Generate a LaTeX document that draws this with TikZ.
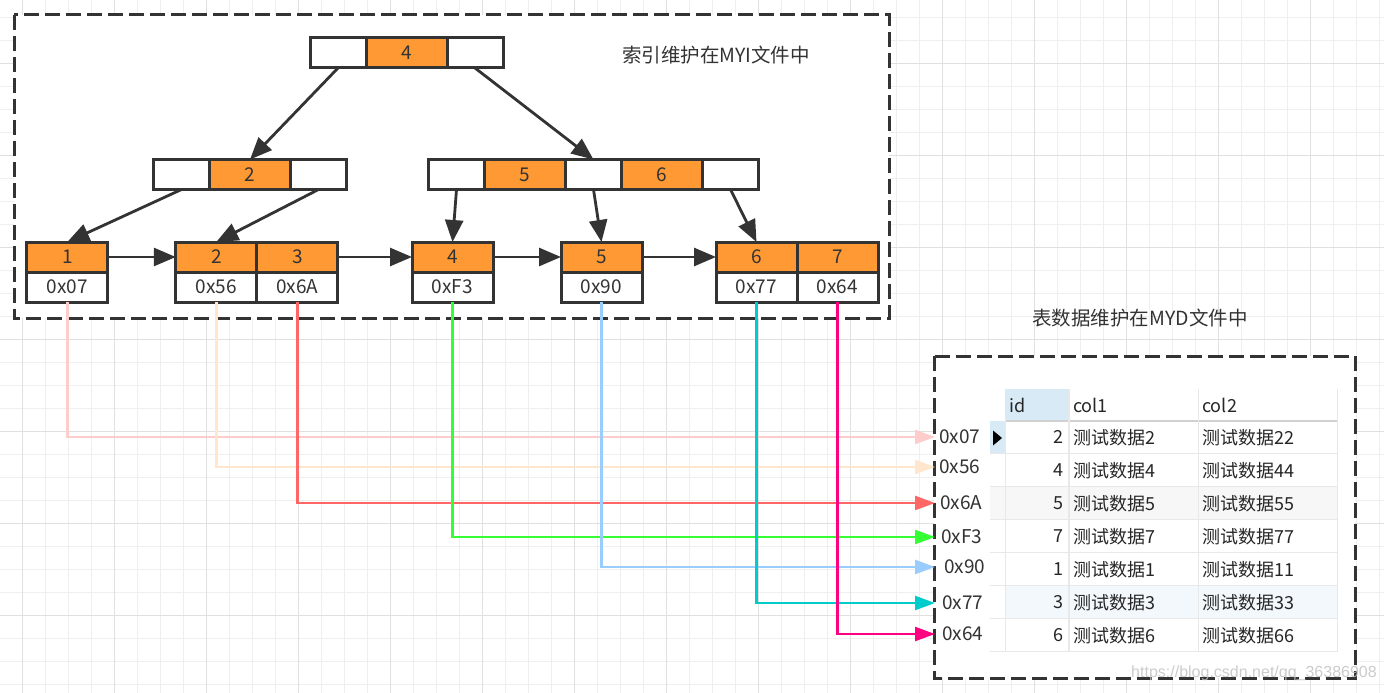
\documentclass[tikz,border=0pt]{standalone}
\usepackage{fontspec}
\usepackage{xcolor}
\usepackage{tikz}
\usetikzlibrary{positioning,arrows.meta}
\newfontfamily\cjk{Noto Sans CJK SC}
\newfontfamily\markfont{Liberation Sans}
\definecolor{ink}{HTML}{333333}
\definecolor{keyorange}{HTML}{FF9933}
\definecolor{gridminor}{HTML}{EFEFEF}
\definecolor{gridmajor}{HTML}{E0E0E0}
\definecolor{ptrA}{HTML}{FFCCCC}
\definecolor{ptrB}{HTML}{FFE6CC}
\definecolor{ptrC}{HTML}{FF6666}
\definecolor{ptrD}{HTML}{33FF33}
\definecolor{ptrE}{HTML}{99CCFF}
\definecolor{ptrF}{HTML}{00CCCC}
\definecolor{ptrG}{HTML}{FF0080}
\definecolor{tabline}{HTML}{E8E8E8}
\definecolor{tabhead}{HTML}{D9EAF7}
\definecolor{rowgray}{HTML}{F7F7F7}
\definecolor{rowblue}{HTML}{F3F8FD}

\tikzset{
  cell/.style={draw=ink, line width=3pt, fill=white, minimum width=56pt,
    minimum height=30pt, inner sep=0pt, outer sep=0pt, text=ink, font=\cjk\fontsize{19}{19}\selectfont},
  key/.style={cell, fill=keyorange, minimum width=81pt},
  ptr/.style={cell, minimum width=81pt},
  link/.style={draw=ink, line width=2.8pt, -{Triangle[length=22pt,width=18pt]}},
  rowptr/.style={line width=2.6pt, -{Triangle[length=20pt,width=14pt]}},
  frame/.style={draw=ink, line width=3pt, dash pattern=on 15pt off 6pt, fill=white},
  title/.style={text=ink, inner sep=0pt, font=\cjk\fontsize{19.5}{20}\selectfont},
  addr/.style={anchor=west, inner sep=0pt, inner xsep=4pt, text=ink, font=\cjk\fontsize{19}{19}\selectfont},
  tabtext/.style={inner sep=0pt, text=black!85, font=\cjk\fontsize{18}{18}\selectfont}
}

\begin{document}
\begin{tikzpicture}[x=1pt, y=-1pt]
	\useasboundingbox[fill=white] (0,0) rectangle (1384,693);
	% background grid
	\foreach \gx in {1,...,60}
		\draw[gridminor, line width=1pt] ({-0.7+23*\gx},0) -- ({-0.7+23*\gx},693);
	\foreach \gy in {0,...,29}
		\draw[gridminor, line width=1pt] (0,{17.3+23*\gy}) -- (1384,{17.3+23*\gy});
	\foreach \gx in {0,...,15}
		\draw[gridmajor, line width=1pt] ({22.3+92*\gx},0) -- ({22.3+92*\gx},693);
	\foreach \gy in {0,...,7}
		\draw[gridmajor, line width=1pt] (0,{63.3+92*\gy}) -- (1384,{63.3+92*\gy});

	\draw[frame] (14,15) rectangle (889,318);
	\draw[frame] (934,356) rectangle (1355,678);

	\node[title] (idxtitle) at (716,55) {索引维护在MYI文件中};
	\node[title] (dattitle) at (1140,318) {表数据维护在MYD文件中};

	% table
	\fill[tabhead] (1005.7,389.3) rectangle (1069,420.7);
	\fill[tabhead] (990,420.7) rectangle (1005.7,453.7);
	\fill[rowgray] (990,486.7) rectangle (1337.3,519.7);
	\fill[rowblue] (1005.7,585.7) rectangle (1337.3,618.7);
	\foreach \ty in {453.7,486.7,519.7,552.7,585.7,618.7,651.7}
		\draw[tabline, line width=1.5pt] (990,\ty) -- (1337.3,\ty);
	\draw[black!18, line width=2pt] (1005.7,420.7) -- (1337.3,420.7);
	\foreach \tx in {1005.7,1069,1198.3,1337.3}
		\draw[tabline, line width=1.5pt] (\tx,389.3) -- (\tx,651.7);
	\fill[black] (993,430.5) -- (1002,438) -- (993,445.5) -- cycle;
	\node[tabtext, anchor=west] (hid) at (1009,405) {id};
	\node[tabtext, anchor=west] (hca) at (1073,405) {col1};
	\node[tabtext, anchor=west] (hcb) at (1202,405) {col2};
	\foreach \i/\v/\a/\b in {1/2/2/22,2/4/4/44,3/5/5/55,4/7/7/77,5/1/1/11,6/3/3/33,7/6/6/66} {
		\node[tabtext, anchor=east] (id\i) at (1064,{404.2+33*\i}) {\v};
		\node[tabtext, anchor=west] (ca\i) at (1073,{404.2+33*\i}) {测试数据\a};
		\node[tabtext, anchor=west] (cb\i) at (1202,{404.2+33*\i}) {测试数据\b};
	}

	\node[addr] (p1) at (935,437) {0x07};
	\node[addr] (p2) at (935,467) {0x56};
	\node[addr, inner xsep=5pt] (p3) at (935,503) {0x6A};
	\node[addr, inner xsep=6pt] (p4) at (935,537) {0xF3};
	\node[addr, inner xsep=9pt] (p5) at (935,567) {0x90};
	\node[addr, inner xsep=7pt] (p6) at (935,603) {0x77};
	\node[addr, inner xsep=7pt] (p7) at (935,634) {0x64};

	% B+ tree
	\node[cell] (r1) at (338,53) {};
	\node[key, right=0pt of r1] (r2) {4};
	\node[cell, right=0pt of r2] (r3) {};

	\node[cell] (b1) at (181.5,174.5) {};
	\node[key, right=0pt of b1] (b2) {2};
	\node[cell, right=0pt of b2] (b3) {};

	\node[cell] (c1) at (456.5,174.5) {};
	\node[key, right=0pt of c1] (c2) {5};
	\node[cell, right=0pt of c2] (c3) {};
	\node[key, right=0pt of c3] (c4) {6};
	\node[cell, right=0pt of c4] (c5) {};

	\node[key] (k1) at (67.3,257) {1};
	\node[ptr, below=0pt of k1] (a1) {0x07};
	\node[key] (k2) at (216.3,257) {2};
	\node[key, right=0pt of k2] (k3) {3};
	\node[ptr, below=0pt of k2] (a2) {0x56};
	\node[ptr, below=0pt of k3] (a3) {0x6A};
	\node[key] (k4) at (452.5,257) {4};
	\node[ptr, below=0pt of k4] (a4) {0xF3};
	\node[key] (k5) at (601.5,257) {5};
	\node[ptr, below=0pt of k5] (a5) {0x90};
	\node[key] (k6) at (756.5,257) {6};
	\node[key, right=0pt of k6] (k7) {7};
	\node[ptr, below=0pt of k6] (a6) {0x77};
	\node[ptr, below=0pt of k7] (a7) {0x64};

	\draw[link] (r1.south) -- (b2.north);
	\draw[link] (r3.south) -- (c3.north);
	\draw[link] (b1.south) -- (k1.north);
	\draw[link] (b3.south) -- (k2.north);
	\draw[link] (c1.south) -- (k4.north);
	\draw[link] (c3.south) -- (k5.north);
	\draw[link] (c5.south) -- (k6.north);
	\draw[link] (k1.east) -- (k2.west);
	\draw[link] (k3.east) -- (k4.west);
	\draw[link] (k4.east) -- (k5.west);
	\draw[link] (k5.east) -- (k6.west);

	% row pointers
	\draw[rowptr, ptrA] (a1.south) |- (p1.west);
	\draw[rowptr, ptrB] (a2.south) |- (p2.west);
	\draw[rowptr, ptrC] (a3.south) |- (p3.west);
	\draw[rowptr, ptrD] (a4.south) |- (p4.west);
	\draw[rowptr, ptrE] (a5.south) |- (p5.west);
	\draw[rowptr, ptrF] (a6.south) |- (p6.west);
	\draw[rowptr, ptrG] (a7.south) |- (p7.west);

	\node[text=black!25, opacity=0.8, inner sep=0pt, font=\markfont\fontsize{16}{16}\selectfont] (mark) at (1254,673) {https://blog.csdn.net/qq\_36386908};
\end{tikzpicture}
\end{document}
